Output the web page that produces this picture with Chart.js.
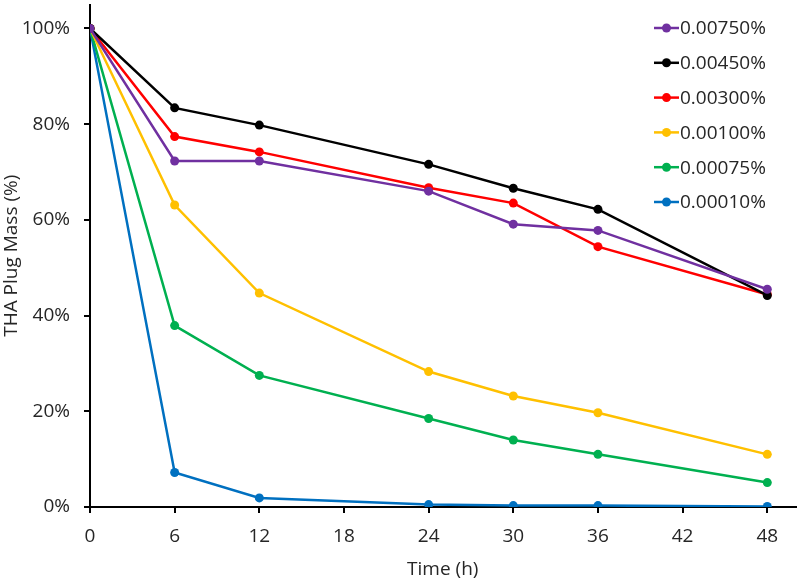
<!DOCTYPE html>
<html><head><meta charset="utf-8">
<script src="https://cdn.jsdelivr.net/npm/chart.js@4.4.0/dist/chart.umd.min.js"></script>
<style>html,body{margin:0;padding:0;background:#fff}#wrap{width:800px;height:583px}</style>
</head><body><div id="wrap"><canvas id="c" width="800" height="583"></canvas></div>
<script>
const hours = [0, 6, 12, 24, 30, 36, 48];
const seriesLabels = ['0.00750%', '0.00450%', '0.00300%', '0.00100%', '0.00075%', '0.00010%'];
const s00750 = [100, 72.3, 72.3, 66.0, 59.1, 57.8, 45.5];
const s00450 = [100, 83.4, 79.8, 71.6, 66.6, 62.2, 44.2];
const s00300 = [100, 77.4, 74.2, 66.7, 63.5, 54.4, 44.4];
const s00100 = [100, 63.1, 44.7, 28.3, 23.2, 19.7, 11.0];
const s00075 = [100, 37.9, 27.5, 18.5, 14.0, 11.0, 5.1];
const s00010 = [100, 7.2, 1.9, 0.5, 0.3, 0.3, 0.1];
const xTicks = [0, 6, 12, 18, 24, 30, 36, 42, 48];
const yTicks = [0, 20, 40, 60, 80, 100];

const seriesValues = [s00750, s00450, s00300, s00100, s00075, s00010];
const colors = ['#7030A0', '#000000', '#FF0000', '#FFC000', '#00B050', '#0070C0'];
const FONT = '"Open Sans", "Liberation Sans", sans-serif';
const TXT = '#262626';

const datasets = seriesValues.map((vals, i) => ({
  label: seriesLabels[i],
  data: vals.map((v, j) => ({x: hours[j], y: v})),
  borderColor: colors[i],
  backgroundColor: colors[i],
  borderWidth: 2.5,
  pointRadius: 4.5,
  pointHoverRadius: 4.5,
  pointBorderWidth: 0,
  tension: 0,
  order: i
}));

const insideLegend = {
  id: 'insideLegend',
  afterDraw(chart) {
    const ctx = chart.ctx;
    ctx.save();
    const x0 = 654, lineW = 25, rowH = 34.8, y0 = 28;
    chart.data.datasets.forEach((ds, i) => {
      const y = y0 + i * rowH;
      ctx.strokeStyle = ds.borderColor;
      ctx.lineWidth = 2.5;
      ctx.beginPath();
      ctx.moveTo(x0, y);
      ctx.lineTo(x0 + lineW, y);
      ctx.stroke();
      ctx.fillStyle = ds.backgroundColor;
      ctx.beginPath();
      ctx.arc(x0 + lineW / 2, y, 4.5, 0, Math.PI * 2);
      ctx.fill();
      ctx.fillStyle = TXT;
      ctx.font = '19px ' + FONT;
      ctx.textAlign = 'left';
      ctx.textBaseline = 'middle';
      ctx.fillText(ds.label, x0 + lineW + 1, y + 1);
    });
    ctx.restore();
  }
};

new Chart(document.getElementById('c'), {
  type: 'line',
  data: { datasets },
  options: {
    responsive: false,
    animation: false,
    devicePixelRatio: 1,
    layout: { padding: { left: 0, right: 3, top: 3, bottom: 0 } },
    plugins: { legend: { display: false }, tooltip: { enabled: false } },
    scales: {
      x: {
        type: 'linear',
        min: 0, max: 50,
        afterBuildTicks: s => { s.ticks = xTicks.map(v => ({value: v})); },
        afterFit: s => { s.height = 76; s.paddingLeft = 0; s.paddingRight = 0; },
        ticks: { font: { size: 19, family: FONT }, color: TXT, padding: 12, maxRotation: 0 },
        grid: { drawOnChartArea: false, drawTicks: true, tickLength: 6, color: '#000', lineWidth: 2 },
        border: { display: true, color: '#000', width: 2 },
        title: { display: true, text: 'Time (h)', font: { size: 19, family: FONT }, color: TXT, padding: { top: 0, bottom: 2 } }
      },
      y: {
        type: 'linear',
        min: 0, max: 105,
        afterBuildTicks: s => { s.ticks = yTicks.map(v => ({value: v})); },
        afterFit: s => { s.width = 90; s.paddingTop = 0; s.paddingBottom = 0; },
        ticks: { font: { size: 19, family: FONT }, color: TXT, padding: 14, callback: v => v + '%' },
        grid: { drawOnChartArea: false, drawTicks: true, tickLength: 6, color: '#000', lineWidth: 2 },
        border: { display: true, color: '#000', width: 2 },
        title: { display: true, text: 'THA Plug Mass (%)', font: { size: 19, family: FONT }, color: TXT, padding: { top: 0, bottom: 0 } }
      }
    }
  },
  plugins: [insideLegend]
});
</script>
</body></html>
